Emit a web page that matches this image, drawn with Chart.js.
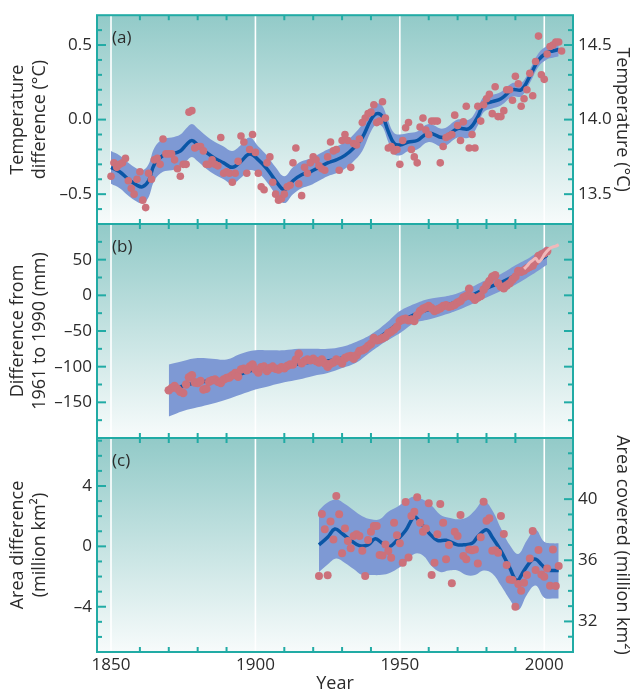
<!DOCTYPE html>
<html><head><meta charset="utf-8">
<script src="https://cdn.jsdelivr.net/npm/chart.js@4.4.1/dist/chart.umd.min.js"></script>
<style>
html,body{margin:0;padding:0;background:#fff;}
#wrap{position:relative;width:630px;height:691px;}
canvas{position:absolute;left:0;top:0;}
</style></head><body>
<div id="wrap">
<canvas id="ca" width="630" height="691"></canvas>
<canvas id="cb" width="630" height="691"></canvas>
<canvas id="cc" width="630" height="691"></canvas>
</div>
<script>
// ---------------- DATA ----------------
// (a) global mean temperature, difference from 1961-1990 (°C), annual values from 1850
const tempStartYear = 1850;
const tempAnnual = [
 -0.38,-0.29,-0.32,-0.30,-0.29,-0.26,-0.41,-0.46,-0.50,-0.40,
 -0.35,-0.54,-0.59,-0.36,-0.40,-0.27,-0.26,-0.30,-0.13,-0.23,
 -0.23,-0.23,-0.27,-0.33,-0.38,-0.30,-0.30, 0.05, 0.06,-0.19,
 -0.18,-0.18,-0.21,-0.30,-0.30,-0.27,-0.30,-0.31,-0.12,-0.36,
 -0.35,-0.36,-0.42,-0.36,-0.28,-0.11,-0.15,-0.36,-0.20,-0.10,
 -0.22,-0.36,-0.45,-0.47,-0.29,-0.25,-0.42,-0.50,-0.54,-0.53,
 -0.50,-0.45,-0.44,-0.29,-0.19,-0.43,-0.51,-0.32,-0.36,-0.29,
 -0.25,-0.27,-0.31,-0.33,-0.34,-0.25,-0.15,-0.21,-0.20,-0.34,
 -0.14,-0.10,-0.14,-0.32,-0.16,-0.17,-0.13,-0.02, 0.01, 0.04,
  0.05, 0.10,-0.02,-0.01, 0.12, 0.01,-0.19,-0.18,-0.21,-0.20,
 -0.30,-0.14,-0.055,-0.02,-0.20,-0.25,-0.29,-0.05, 0.01,-0.07,
 -0.10,-0.01,-0.01,-0.01,-0.29,-0.18,-0.12,-0.11,-0.10, 0.03,
 -0.04,-0.14,-0.015,0.09,-0.19,-0.10,-0.19, 0.09,-0.01, 0.10,
  0.14, 0.17, 0.04, 0.22, 0.02, 0.02, 0.06, 0.20, 0.20, 0.13,
  0.29, 0.24, 0.09, 0.14, 0.20, 0.31, 0.16, 0.39, 0.56, 0.30,
  0.27, 0.44, 0.49, 0.50, 0.52, 0.52, 0.46
];
const tempSmoothYears = [1850,1853,1856,1859,1861,1863,1865,1868,1871,1874,1876,1878,1880,1883,1886,1889,1892,1895,1898,1901,1904,1907,1910,1913,1916,1919,1922,1925,1928,1931,1934,1937,1940,1942,1944,1946,1948,1950,1953,1956,1960,1965,1970,1974,1977,1979,1982,1985,1989,1992,1995,1998,2001,2003,2005];
const tempSmooth = [-0.32,-0.35,-0.40,-0.44,-0.45,-0.41,-0.30,-0.24,-0.23,-0.21,-0.17,-0.14,-0.17,-0.22,-0.26,-0.29,-0.32,-0.28,-0.23,-0.27,-0.33,-0.41,-0.47,-0.41,-0.37,-0.35,-0.32,-0.29,-0.27,-0.24,-0.19,-0.12,0.00,0.04,0.02,-0.08,-0.16,-0.17,-0.15,-0.14,-0.09,-0.12,-0.06,-0.06,0.02,0.10,0.12,0.14,0.20,0.20,0.29,0.40,0.45,0.46,0.47];
const tempUpper = [-0.21,-0.24,-0.29,-0.33,-0.34,-0.30,-0.19,-0.13,-0.12,-0.10,-0.06,-0.03,-0.06,-0.11,-0.15,-0.18,-0.21,-0.17,-0.12,-0.18,-0.24,-0.32,-0.38,-0.32,-0.28,-0.26,-0.23,-0.20,-0.18,-0.15,-0.10,-0.03,0.08,0.11,0.09,-0.01,-0.09,-0.10,-0.09,-0.08,-0.03,-0.06,0.00,0.00,0.08,0.15,0.165,0.185,0.245,0.245,0.335,0.445,0.495,0.505,0.515];
const tempLower = [-0.43,-0.46,-0.51,-0.55,-0.56,-0.52,-0.41,-0.35,-0.34,-0.32,-0.28,-0.25,-0.28,-0.33,-0.37,-0.40,-0.43,-0.39,-0.34,-0.36,-0.42,-0.50,-0.56,-0.50,-0.46,-0.44,-0.41,-0.38,-0.36,-0.33,-0.28,-0.21,-0.08,-0.03,-0.05,-0.15,-0.23,-0.24,-0.21,-0.20,-0.15,-0.18,-0.12,-0.12,-0.04,0.05,0.075,0.095,0.155,0.155,0.245,0.355,0.405,0.415,0.425];

// (b) global average sea level, difference from 1961-1990 (mm), annual values from 1870
const seaStartYear = 1870;
const seaAnnual = [
 -133,-130,-127,-131,-135,-137,-125,-115,-112,-122,
 -123,-120,-132,-131,-121,-119,-118,-121,-123,-118,
 -116,-115,-112,-109,-114,-104,-103,-105,-100,-97,
 -104,-108,-101,-100,-106,-102,-100,-103,-104,-101,
 -102,-99,-97,-97,-90,-82,-95,-92,-90,-91,
 -89,-92,-94,-90,-95,-100,-96,-94,-90,-92,
 -95,-88,-86,-85,-89,-84,-78,-77,-75,-71,
 -68,-60,-63,-62,-60,-58,-53,-51,-48,-44,
 -36,-34,-33,-35,-34,-36,-28,-22,-19,-17,
 -15,-18,-22,-20,-18,-15,-14,-16,-15,-13,
 -10,-8,-3,-1,9,-2,-6,-3,-1,8,
 14,20,26,28,17,12,10,14,17,22,
 26,34,33,35,38,40,42,48,55,57,
 59,62
];
const seaBandYears = [1870,1875,1880,1885,1890,1895,1900,1905,1910,1915,1920,1925,1930,1935,1940,1945,1950,1955,1960,1965,1970,1975,1980,1985,1990,1995,2001];
const seaSmooth = [-133,-127,-122,-120,-118,-110,-104,-102,-100,-96,-93,-92,-88,-82,-67,-53,-38,-27,-20,-15,-9,0,10,18,28,40,56];
const seaUpper = [-97,-92,-88,-89,-90,-82,-77,-77,-77,-75,-75,-75,-72,-65,-55,-40,-22,-12,-5,-2,3,12,22,30,42,53,69];
const seaLower = [-170,-162,-157,-152,-146,-139,-132,-127,-122,-118,-113,-109,-102,-94,-79,-65,-53,-39,-34,-28,-21,-12,-3,6,15,27,43];
const satYears = [1993,1994,1995,1996,1997,1998,1999,2000,2001,2002,2003,2004,2005];
const satLevel = [37,41,46,49,52,47,50,57,62,66,68,69,71];

// (c) Northern Hemisphere snow cover, difference from 1961-1990 (million km²), annual from 1922
const snowStartYear = 1922;
const snowAnnual = [
 -1.97,2.14,1.13,-1.92,1.64,0.46,3.34,2.12,-0.46,1.19,
 0.35,-0.13,0.69,0.80,0.69,-0.29,-1.97,0.42,0.97,1.35,
 1.35,-0.57,-0.60,0.13,-0.31,-0.75,1.57,0.73,0.20,-1.08,
 2.94,-0.73,2.01,2.30,3.25,1.57,0.97,1.19,2.85,-1.90,
 -1.08,0.80,2.81,1.57,-0.86,0.09,-2.45,0.97,0.69,2.08,
 -0.64,-0.86,-0.20,-0.25,-0.20,-1.13,0.60,2.96,1.70,1.86,
 -0.29,-0.25,-0.42,2.01,0.82,-1.24,-2.19,-2.23,-4.00,-2.50,
 -2.94,-2.41,-1.90,-0.80,1.02,-1.57,-0.24,-1.86,-2.01,-1.46,
 -2.61,-0.20,-2.63,-1.30
];
const snowSmoothYears = [1922,1925,1927.5,1930,1933,1936,1939,1941.5,1944,1946.5,1949,1952,1955,1957,1960,1963,1966,1970,1972,1975,1977,1980,1982,1985,1988,1990.5,1993,1995.5,1997,1999,2001,2003,2005];
const snowSmooth = [0.1,0.6,1.15,0.85,0.4,0.05,0.1,0.5,0.2,0.0,0.4,1.05,1.95,1.6,0.9,0.4,0.4,0.1,0.1,0.2,0.65,1.1,0.6,-0.3,-1.4,-2.25,-1.6,-0.95,-0.85,-1.2,-1.55,-1.6,-1.6];
const snowBandYears = [1922,1925,1928,1931,1934,1937,1940,1943,1946,1949,1952,1955,1958,1961,1964,1967,1970,1973,1976,1979,1982,1985,1988,1991,1994,1997,2000,2003,2005];
const snowUpper = [2.4,2.9,3.1,2.8,2.4,2.0,1.8,1.8,2.3,2.6,3.0,3.3,3.1,2.7,2.1,1.9,1.8,1.9,2.4,3.0,2.4,1.2,0.1,-0.5,0.4,1.1,0.3,0.2,0.2];
const snowLower = [-1.7,-1.2,-0.8,-1.1,-1.5,-1.9,-1.9,-1.9,-1.8,-1.5,-1.1,-0.5,-0.6,-1.3,-1.7,-1.6,-1.6,-1.9,-1.9,-1.6,-1.8,-2.6,-3.5,-4.2,-3.2,-2.6,-3.4,-3.45,-3.45];

// tick labels
const xLabelYears = [1850, 1900, 1950, 2000];
const xMinorYears = [1860,1870,1880,1890,1910,1920,1930,1940,1960,1970,1980,1990];
const aLeftTicks = [-0.5, 0, 0.5];      const aLeftLabels = ['\u20130.5', '0.0', '0.5'];
const aRightTicks = [13.5, 14.0, 14.5]; const aRightLabels = ['13.5', '14.0', '14.5'];
const bLeftTicks = [-150, -100, -50, 0, 50]; const bLeftLabels = ['\u2013150', '\u2013100', '\u201350', '0', '50'];
const cLeftTicks = [-4, 0, 4];          const cLeftLabels = ['\u20134', '0', '4'];
const cRightTicks = [32, 36, 40];       const cRightLabels = ['32', '36', '40'];
const aMinor = [-0.6,-0.5,-0.4,-0.3,-0.2,-0.1,0,0.1,0.2,0.3,0.4,0.5,0.6];
const aRightMinor = [13.4,13.5,13.6,13.7,13.8,13.9,14.0,14.1,14.2,14.3,14.4,14.5,14.6];
const bMinor = [-175,-150,-125,-100,-75,-50,-25,0,25,50,75];
const cMinor = [-6,-5,-4,-3,-2,-1,0,1,2,3,4,5,6,7];
const cRightMinor = [31,32,33,34,35,36,37,38,39,40,41,42,43];

// ---------------- STYLE ----------------
const FONT = "'Open Sans', sans-serif";
const TEXT = '#2b2b2b';
const FRAME = '#21aba5';
const BG_TOP = 'rgb(146,202,200)';
const BG_BOTTOM = 'rgb(247,251,251)';
const BAND = 'rgb(126,153,212)';
const CURVE = 'rgb(10,86,166)';
const DOT = 'rgb(204,113,123)';
const SAT = 'rgb(240,184,186)';
const X_MIN = 1845.15, X_MAX = 2009.95;

Chart.defaults.font.family = FONT;
Chart.defaults.color = TEXT;

function pts(xs, ys) { return ys.map((v, i) => ({x: xs[i], y: v})); }
function annual(start, ys) { return ys.map((v, i) => ({x: start + i, y: v})); }
function near(list, v) { return list.some(t => Math.abs(t - v) < 1e-6); }

function panelPlugin(cfg) {
  return {
    id: 'panel' + cfg.label,
    beforeDatasetsDraw(chart) {
      const {ctx, chartArea: a} = chart; const xs = chart.scales.x;
      ctx.save();
      const g = ctx.createLinearGradient(0, a.top, 0, a.bottom);
      g.addColorStop(0, BG_TOP); g.addColorStop(1, BG_BOTTOM);
      ctx.fillStyle = g; ctx.fillRect(a.left, a.top, a.right - a.left, a.bottom - a.top);
      ctx.strokeStyle = '#ffffff'; ctx.lineWidth = 1.6;
      xLabelYears.forEach(yr => { const x = xs.getPixelForValue(yr); ctx.beginPath(); ctx.moveTo(x, a.top); ctx.lineTo(x, a.bottom); ctx.stroke(); });
      ctx.restore();
    },
    afterDatasetsDraw(chart) {
      const {ctx, chartArea: a} = chart; const xs = chart.scales.x;
      const L = chart.scales[cfg.left], R = chart.scales[cfg.right];
      ctx.save();
      ctx.strokeStyle = FRAME; ctx.lineWidth = 2;
      const seg = (x1, y1, x2, y2) => { ctx.beginPath(); ctx.moveTo(x1, y1); ctx.lineTo(x2, y2); ctx.stroke(); };
      xMinorYears.forEach(yr => { const x = xs.getPixelForValue(yr); seg(x, a.top, x, a.top + 5); seg(x, a.bottom, x, a.bottom - 5); });
      cfg.leftMinor.forEach(v => { const y = L.getPixelForValue(v); const len = near(cfg.leftMajor, v) ? 9 : 5; seg(a.left, y, a.left + len, y); });
      cfg.rightMinor.forEach(v => { const y = R.getPixelForValue(v); const len = near(cfg.rightMajor, v) ? 9 : 5; seg(a.right, y, a.right - len, y); });
      ctx.strokeRect(a.left, a.top, a.right - a.left, a.bottom - a.top);
      ctx.fillStyle = TEXT; ctx.font = '17px ' + FONT; ctx.textBaseline = 'middle'; ctx.textAlign = 'left';
      ctx.fillText(cfg.label, xs.getPixelForValue(1850) + 1, a.top + 23);
      ctx.restore();
    }
  };
}

function yAxis(pos, min, max, ticks, labels, width, title, titlePad) {
  return {
    type: 'linear', position: pos, min: min, max: max,
    afterBuildTicks: s => { s.ticks = ticks.map(v => ({value: v})); },
    afterFit: s => { s.width = width; },
    grid: {display: false, drawTicks: false},
    border: {display: false},
    ticks: {display: labels !== null, padding: 5, color: TEXT, font: {size: 17},
            callback: (v, i) => labels ? labels[i] : ''},
    title: {display: !!title, text: title || '', color: TEXT, font: {size: 18, lineHeight: 1.2}, padding: {top: titlePad, bottom: 0}}
  };
}
function xAxis(show) {
  const ax = {
    type: 'linear', min: X_MIN, max: X_MAX, display: show,
    afterBuildTicks: s => { s.ticks = xLabelYears.map(v => ({value: v})); },
    grid: {display: false, drawTicks: false}, border: {display: false},
    ticks: {padding: 3, color: TEXT, font: {size: 17}, maxRotation: 0, autoSkip: false,
            callback: (v, i) => String(xLabelYears[i])},
    title: {display: show, text: 'Year', color: TEXT, font: {size: 18, lineHeight: 1.2}, padding: {top: 0, bottom: -4}}
  };
  if (show) ax.afterFit = s => { s.height = 39; };
  return ax;
}
const common = {
  responsive: false, animation: false, events: [],
  plugins: {legend: {display: false}, tooltip: {enabled: false}}
};

// ---------------- (a) ----------------
new Chart(document.getElementById('ca'), {
  type: 'line',
  data: {datasets: [
    {data: annual(tempStartYear, tempAnnual), showLine: false, pointRadius: 3.8, pointBorderWidth: 0, pointBackgroundColor: DOT, order: 1},
    {data: pts(tempSmoothYears, tempSmooth), borderColor: CURVE, borderWidth: 3.5, pointRadius: 0, tension: 0.4, fill: false, order: 2},
    {data: pts(tempSmoothYears, tempUpper), borderColor: 'transparent', borderWidth: 0, pointRadius: 0, tension: 0.4, fill: '+1', backgroundColor: BAND, order: 3},
    {data: pts(tempSmoothYears, tempLower), borderColor: 'transparent', borderWidth: 0, pointRadius: 0, tension: 0.4, fill: false, order: 4}
  ]},
  options: Object.assign({}, common, {
    layout: {padding: {top: 12, bottom: 691 - 224, left: 0, right: 0}},
    scales: {
      x: xAxis(false),
      y: yAxis('left', -0.70, 0.70, aLeftTicks, aLeftLabels, 97, ['Temperature', 'difference (\u00B0C)'], 7),
      y2: yAxis('right', 13.30, 14.70, aRightTicks, aRightLabels, 57, 'Temperature (\u00B0C)', -2.5)
    }
  }),
  plugins: [panelPlugin({label: '(a)', left: 'y', right: 'y2', leftMinor: aMinor, leftMajor: aLeftTicks, rightMinor: aRightMinor, rightMajor: aRightTicks})]
});

// ---------------- (b) ----------------
new Chart(document.getElementById('cb'), {
  type: 'line',
  data: {datasets: [
    {data: pts(satYears, satLevel), borderColor: SAT, borderWidth: 3, pointRadius: 0, tension: 0.3, fill: false, order: 0},
    {data: annual(seaStartYear, seaAnnual), showLine: false, pointRadius: 4.3, pointBorderWidth: 0, pointBackgroundColor: DOT, order: 1},
    {data: pts(seaBandYears, seaSmooth), borderColor: CURVE, borderWidth: 3.5, pointRadius: 0, tension: 0.4, fill: false, order: 2},
    {data: pts(seaBandYears, seaUpper), borderColor: 'transparent', borderWidth: 0, pointRadius: 0, tension: 0.4, fill: '+1', backgroundColor: BAND, order: 3},
    {data: pts(seaBandYears, seaLower), borderColor: 'transparent', borderWidth: 0, pointRadius: 0, tension: 0.4, fill: false, order: 4}
  ]},
  options: Object.assign({}, common, {
    layout: {padding: {top: 224, bottom: 691 - 438, left: 0, right: 57}},
    scales: {
      x: xAxis(false),
      y: yAxis('left', -200, 100, bLeftTicks, bLeftLabels, 97, ['Difference from', '1961 to 1990 (mm)'], 7)
    }
  }),
  plugins: [panelPlugin({label: '(b)', left: 'y', right: 'y', leftMinor: bMinor, leftMajor: bLeftTicks, rightMinor: bMinor, rightMajor: bLeftTicks})]
});

// ---------------- (c) ----------------
new Chart(document.getElementById('cc'), {
  type: 'line',
  data: {datasets: [
    {data: annual(snowStartYear, snowAnnual), showLine: false, pointRadius: 4, pointBorderWidth: 0, pointBackgroundColor: DOT, order: 1},
    {data: pts(snowSmoothYears, snowSmooth), borderColor: CURVE, borderWidth: 3.5, pointRadius: 0, tension: 0.4, fill: false, order: 2},
    {data: pts(snowBandYears, snowUpper), borderColor: 'transparent', borderWidth: 0, pointRadius: 0, tension: 0.4, fill: '+1', backgroundColor: BAND, order: 3},
    {data: pts(snowBandYears, snowLower), borderColor: 'transparent', borderWidth: 0, pointRadius: 0, tension: 0.4, fill: false, order: 4}
  ]},
  options: Object.assign({}, common, {
    layout: {padding: {top: 438, bottom: 0, left: 0, right: 0}},
    scales: {
      x: xAxis(true),
      y: yAxis('left', -7.0, 7.18, cLeftTicks, cLeftLabels, 97, ['Area difference', '(million km\u00B2)'], 7),
      y2: yAxis('right', 30, 44, cRightTicks, cRightLabels, 57, 'Area covered (million km\u00B2)', -2.5)
    }
  }),
  plugins: [panelPlugin({label: '(c)', left: 'y', right: 'y2', leftMinor: cMinor, leftMajor: cLeftTicks, rightMinor: cRightMinor, rightMajor: cRightTicks})]
});
</script>
</body></html>
